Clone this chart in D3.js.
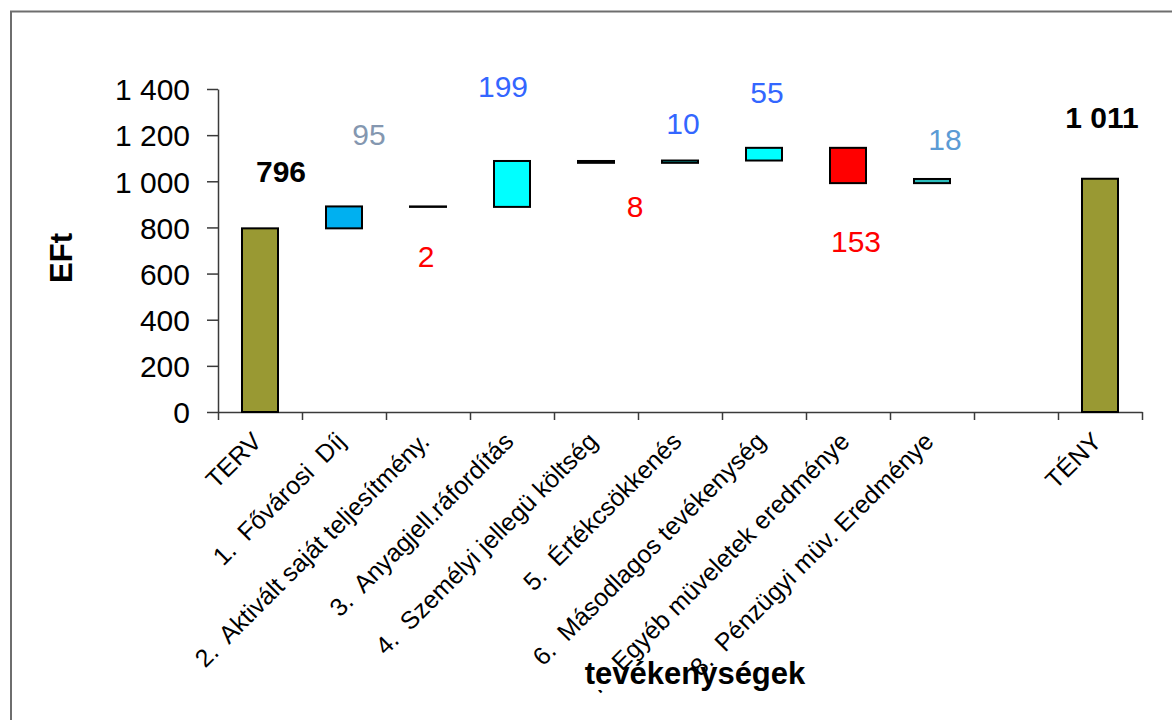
<!DOCTYPE html>
<html lang="hu">
<head>
    <meta charset="UTF-8" />
    <title>Vízesés diagram - tevékenységek</title>
    <script src="https://d3js.org/d3.v7.min.js"></script>
    <style>
        body { margin: 0; background: #fff; }
        svg text { font-family: "Liberation Sans", Arial, sans-serif; }
    </style>
</head>
<body>
<script>
    // categories (the empty one is the gap before TÉNY)
    var categories = ["TERV", "1.  Fővárosi  Díj", "2.  Aktivált saját teljesítmény.",
        "3.  Anyagjell.ráfordítás", "4.  Személyi jellegü költség", "5.  Értékcsökkenés",
        "6.  Másodlagos tevékenység", "7.  Egyéb müveletek eredménye", "8.  Pénzügyi müv. Eredménye",
        "", "TÉNY"];
    var kinds = ["total", "delta", "delta", "delta", "delta", "delta", "delta", "delta", "delta", "blank", "total"];
    var values = [796, 95, -2, 199, -8, 10, 55, -153, 18, 0, 1011];
    var yTicks = [0, 200, 400, 600, 800, 1000, 1200, 1400];

    // styling per bar / label
    var barColors = ["#999933", "#00B0F0", "#00FFFF", "#00FFFF", "#00FFFF", "#00FFFF", "#00FFFF", "#FF0000", "#2BBDBD", "none", "#999933"];
    var labelColors = ["#000", "#8497B0", "#FF0000", "#3366FF", "#FF0000", "#3366FF", "#3366FF", "#FF0000", "#5B9BD5", "#000", "#000"];
    var labelDx = [21, 25, -2, -9, 39, 3, 3, 8, 13, 0, 2];
    var labelDy = [-46, -61, 60, -64, 54, -27, -45, 69, -29, 0, -51];

    var w = 1172, h = 720;
    var mLeft = 218, mRight = 1142, mTop = 89, mBottom = 412;

    var svg = d3.select("body").append("svg")
        .attr("width", w)
        .attr("height", h);

    // frame
    svg.append("path")
        .attr("d", "M11," + h + "V11.5H" + w)
        .attr("fill", "none")
        .attr("stroke", "#6e6e6e")
        .attr("stroke-width", 2);

    var x = d3.scaleBand().domain(d3.range(categories.length)).range([mLeft, mRight]).padding(0);
    var xEdges = d3.scaleLinear().domain([0, categories.length]).range([mLeft, mRight]);
    var y = d3.scaleLinear().domain([0, 1400]).range([mBottom, mTop]);

    // waterfall segments
    var running = 0;
    var bars = values.map(function (v, i) {
        var y0, y1;
        if (kinds[i] === "total") { y0 = 0; y1 = v; running = v; }
        else if (kinds[i] === "delta") { y0 = running; y1 = running + v; running = y1; }
        else { y0 = running; y1 = running; }
        return { i: i, kind: kinds[i], v: v, lo: Math.min(y0, y1), hi: Math.max(y0, y1) };
    });

    var hu = d3.formatLocale({ decimal: ",", thousands: " ", grouping: [3], currency: ["", ""] });
    var fmt = hu.format(",");

    // y axis
    var yAxis = svg.append("g")
        .attr("transform", "translate(" + mLeft + ",0)")
        .call(d3.axisLeft(y).tickValues(yTicks).tickFormat(fmt).tickSize(11).tickSizeOuter(0).tickPadding(17));
    yAxis.selectAll("text").style("font-size", "30px").attr("fill", "#000").attr("dy", "0.36em");
    yAxis.selectAll("line, path").attr("stroke", "#3a3a3a").attr("stroke-width", 1.5);

    // x axis (ticks between categories)
    var xAxis = svg.append("g")
        .attr("transform", "translate(0," + mBottom + ")")
        .call(d3.axisBottom(xEdges).tickValues(d3.range(categories.length + 1)).tickFormat("").tickSize(8).tickSizeOuter(0));
    xAxis.selectAll("line, path").attr("stroke", "#3a3a3a").attr("stroke-width", 1.5);

    var bw = 36;
    svg.selectAll("rect.bar")
        .data(bars.filter(function (d) { return d.kind !== "blank"; }))
        .enter().append("rect")
        .attr("class", "bar")
        .attr("x", function (d) { return x(d.i) + x.bandwidth() / 2 - bw / 2; })
        .attr("width", bw)
        .attr("y", function (d) { return y(d.hi); })
        .attr("height", function (d) { return y(d.lo) - y(d.hi); })
        .attr("fill", function (d) { return barColors[d.i]; })
        .attr("stroke", "#000")
        .attr("stroke-width", 2);

    // value labels
    svg.selectAll("text.val")
        .data(bars.filter(function (d) { return d.kind !== "blank"; }))
        .enter().append("text")
        .attr("class", "val")
        .attr("text-anchor", "middle")
        .attr("x", function (d) { return x(d.i) + x.bandwidth() / 2 + labelDx[d.i]; })
        .attr("y", function (d) {
            var base = d.v < 0 ? y(d.lo) : y(d.hi);
            return base + labelDy[d.i];
        })
        .style("font-size", "30px")
        .style("font-weight", function (d) { return d.kind === "total" ? "bold" : "normal"; })
        .attr("fill", function (d) { return labelColors[d.i]; })
        .text(function (d) { return fmt(Math.abs(d.v)); });

    // category labels
    svg.selectAll("text.cat")
        .data(categories)
        .enter().append("text")
        .attr("class", "cat")
        .attr("text-anchor", "end")
        .attr("xml:space", "preserve")
        .style("white-space", "pre")
        .style("font-size", "25px")
        .attr("fill", "#000")
        .attr("transform", function (d, i) {
            return "translate(" + (x(i) + x.bandwidth() / 2 + 3) + "," + 443 + ") rotate(-45)";
        })
        .text(function (d) { return d; });

    // axis titles
    svg.append("text")
        .attr("text-anchor", "middle")
        .attr("transform", "translate(72,258) rotate(-90)")
        .style("font-size", "31px")
        .style("font-weight", "bold")
        .text("EFt");

    // x title sits on a white strip, like in the original (it hides most of the "7." label)
    var titleBox = svg.append("rect").attr("fill", "#fff");
    var xTitle = svg.append("text")
        .attr("text-anchor", "middle")
        .attr("x", 695)
        .attr("y", 684)
        .style("font-size", "31px")
        .style("font-weight", "bold")
        .text("tevékenységek");
    var bb = xTitle.node().getBBox();
    titleBox.attr("x", bb.x).attr("y", 670).attr("width", bb.width * 0.45).attr("height", 20);
</script>
</body>
</html>
